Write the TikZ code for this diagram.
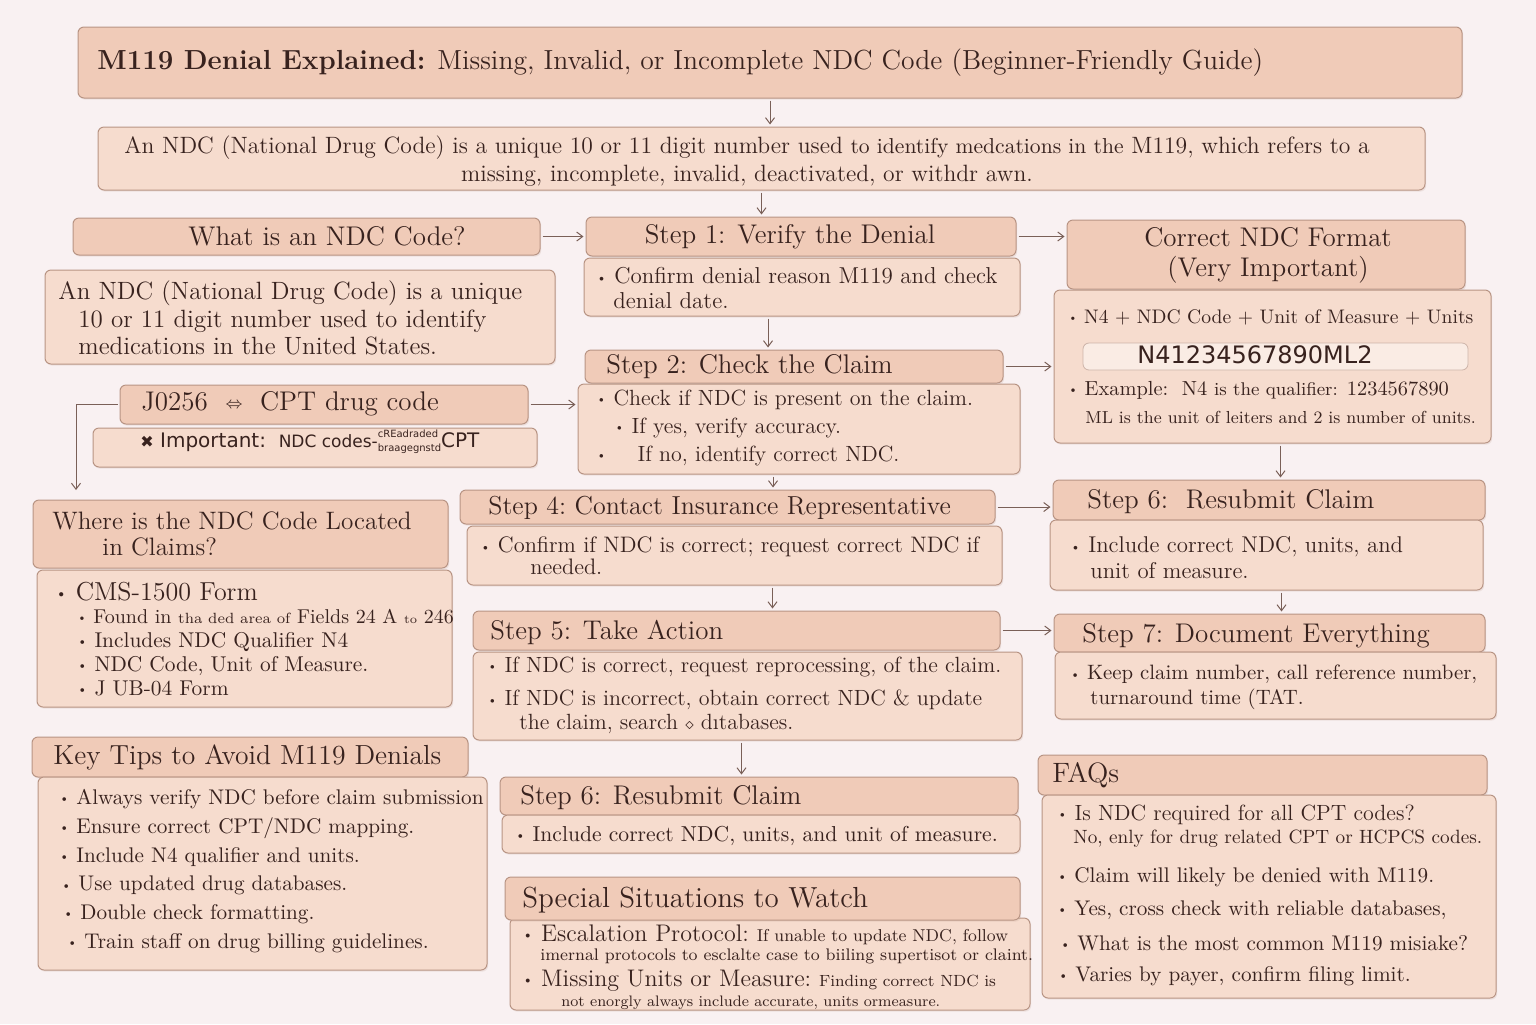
\documentclass[tikz,border=0pt]{standalone}
\usepackage{fontspec}
\setsansfont{DejaVu Sans}
\usetikzlibrary{arrows.meta,calc,fit,shadows}
\definecolor{pageBg}{RGB}{249,241,242}
\definecolor{hdrFill}{RGB}{240,203,184}
\definecolor{bodyFill}{RGB}{246,220,206}
\definecolor{boxLine}{RGB}{184,148,132}
\definecolor{inkBrown}{RGB}{56,34,30}
\definecolor{arrowBrown}{RGB}{122,96,88}
\newcommand{\bul}{\raisebox{0.18ex}{\scalebox{0.6}{\textbullet}}\ }
\newcommand{\fsz}[2]{\fontsize{#1}{#2}\selectfont}

\begin{document}
\begin{tikzpicture}[x=0.5pt,y=-0.5pt,
  hdr/.style={draw=boxLine,fill=hdrFill,rounded corners=3pt,inner sep=0pt,line width=0.5pt,
    drop shadow={shadow xshift=0.6pt,shadow yshift=-0.8pt,opacity=0.18,fill=boxLine}},
  body/.style={draw=boxLine,fill=bodyFill,rounded corners=3pt,inner sep=0pt,line width=0.5pt,
    drop shadow={shadow xshift=0.6pt,shadow yshift=-0.8pt,opacity=0.18,fill=boxLine}},
  txt/.style={anchor=west,inner sep=0pt,text=inkBrown,align=left,font=\fsz{11}{12.5}},
  htxt/.style={txt,font=\fsz{13.5}{15}},
  arr/.style={draw=arrowBrown,line width=0.5pt,shorten <=1pt,shorten >=1pt,
    -{Straight Barb[length=3pt,width=4.5pt]}}]
  % page
  \fill[pageBg] (0,0) rectangle (1536,1024);
  \useasboundingbox (0,0) rectangle (1536,1024);

  % title and intro
  \node[hdr,fit={(78,27) (1462,98)}] (title) {};
  \node[txt,font=\fsz{13.8}{17}] (titletxt) at (97,63)
    {\textbf{M119 Denial Explained:} Missing, Invalid, or Incomplete NDC Code (Beginner-Friendly Guide)};
  \node[body,fit={(98,127) (1425,190)}] (intro) {};
  \node[txt,anchor=center,align=center,font=\fsz{11.8}{14}] (introtxt) at (747,161)
    {An NDC (National Drug Code) is a unique 10 or 11 digit number used {\fsz{10.8}{14}to identify medcations in the} M119, which refers to a\\
     missing, incomplete, invalid, deactivated, or withdr awn.};

  % left column
  \node[hdr,fit={(73,218) (540,255)}] (what) {};
  \node[htxt,anchor=center] (whattxt) at (327,236) {What is an NDC Code?};
  \node[body,fit={(45,270) (555,364)}] (ndcdef) {};
  \node[txt,font=\fsz{12.5}{13.75}] (ndcdeftxt) at (58,318)
    {An NDC (National Drug Code) is a unique\\
     \hspace*{10pt}10 or 11 digit number used to identify\\
     \hspace*{10pt}medications in the United States.};
  \node[hdr,fit={(120,385) (528,424)}] (jcode) {};
  \node[htxt] (jcodetxt) at (141,404) {J0256\ \ {\sffamily\fsz{8}{10}\raisebox{0.3ex}{$\Leftrightarrow$}}\ \ CPT drug code};
  \node[body,fit={(93,428) (537,467)}] (imp) {};
  \node[txt,font=\sffamily\fsz{10}{12}] (imptxt) at (140,442)
    {{\fsz{8}{10}✖} Important:\ \ {\fsz{8.5}{10}NDC codes-}\raisebox{-0.4ex}{\fsz{5}{5}\shortstack[l]{cREadraded\\braagegnstd}}CPT};

  \node[hdr,fit={(33,500) (448,568)}] (whereh) {};
  \node[htxt,font=\fsz{12.6}{13}] (wherehtxt) at (52,534)
    {Where is the NDC Code Located\\\hspace*{25pt}in Claims?};
  \node[body,fit={(37,570) (452,707)}] (whereb) {};
  \node[txt,font=\fsz{13}{14}] (wheretxt1) at (55,592) {\bul CMS-1500 Form};
  \node[txt,font=\fsz{10.7}{12}] (wheretxt2) at (77,652.5)
    {{\fsz{10}{12}\bul Found in {\fsz{7.4}{12}tha ded area of} Fields 24 A {\fsz{6}{12}to} 246}\\
     \bul Includes NDC Qualifier N4\\
     \bul NDC Code, Unit of Measure.\\
     \bul J UB-04 Form};

  \node[hdr,fit={(32,737) (468,777)}] (tiph) {};
  \node[htxt,font=\fsz{13.8}{15}] (tiphtxt) at (53,757) {Key Tips to Avoid M119 Denials};
  \node[body,fit={(38,777) (487,970)}] (tipb) {};
  \node[txt,font=\fsz{10.6}{14.4}] (tiptxt) at (59,871)
    {\bul Always verify NDC before claim submission\\
     \bul Ensure correct CPT/NDC mapping.\\
     \bul Include N4 qualifier and units.\\
     \hspace*{1pt}\bul Use updated drug databases.\\
     \hspace*{2pt}\bul Double check formatting.\\
     \hspace*{4pt}\bul Train staff on drug billing guidelines.};

  % middle column
  \node[hdr,fit={(586,217) (1016,256)}] (s1h) {};
  \node[htxt,anchor=center] (s1htxt) at (790,237) {Step 1: Verify the Denial};
  \node[body,fit={(584,258) (1020,316)}] (s1b) {};
  \node[txt,font=\fsz{11.5}{12.5}] (s1btxt) at (596,288.5)
    {\bul Confirm denial reason M119 and check\\\hspace*{8.5pt}denial date.};
  \node[hdr,fit={(585,350) (1003,383)}] (s2h) {};
  \node[htxt] (s2htxt) at (606,367) {Step 2: Check the Claim};
  \node[body,fit={(578,384) (1020,474)}] (s2b) {};
  \node[txt,font=\fsz{11}{14}] (s2btxt) at (596,428)
    {\bul Check if NDC is present on the claim.\\
     \hspace*{9pt}\bul If yes, verify accuracy.\\
     \bul\hspace*{12pt}If no, identify correct NDC.};
  \node[hdr,fit={(460,490) (995,524)}] (s4h) {};
  \node[htxt,font=\fsz{13}{15}] (s4htxt) at (488,508) {Step 4:\ Contact Insurance Representative};
  \node[body,fit={(467,526) (1002,585)}] (s4b) {};
  \node[txt,font=\fsz{11.2}{11}] (s4btxt) at (480,556)
    {\bul Confirm if NDC is correct; request correct NDC if\\\hspace*{25pt}needed.};
  \node[hdr,fit={(473,611) (1000,650)}] (s5h) {};
  \node[htxt] (s5htxt) at (490,632) {Step 5: Take Action};
  \node[body,fit={(473,652) (1022,740)}] (s5b) {};
  \node[txt,font=\fsz{11}{12}] (s5btxt1) at (487,667) {\bul If NDC is correct, request reprocessing, of the claim.};
  \node[txt,font=\fsz{11}{12}] (s5btxt2) at (487,712)
    {\bul If NDC is incorrect, obtain correct NDC \& update\\
     \hspace*{16pt}the claim, search {\fsz{8}{12}$\diamond$} dıtabases.};
  \node[hdr,fit={(500,777) (1018,815)}] (s6mh) {};
  \node[htxt] (s6mhtxt) at (520,798) {Step 6: Resubmit Claim};
  \node[body,fit={(502,815) (1020,853)}] (s6mb) {};
  \node[txt,font=\fsz{10.8}{12}] (s6mbtxt) at (515,836) {\bul Include correct NDC, units, and unit of measure.};
  \node[body,fit={(510,918) (1030,1010)}] (spb) {};
  \node[hdr,fit={(505,877) (1020,920)}] (sph) {};
  \node[htxt,font=\fsz{14.5}{15}] (sphtxt) at (522,900) {Special Situations to Watch};
  \node[txt,font=\fsz{12}{12}] (spbtxt1) at (522,935)
    {\bul Escalation Protocol:\ {\fsz{8.6}{12}If unable to update NDC, follow}};
  \node[txt,font=\fsz{8.4}{12}] (spbtxt2) at (540,956)
    {imernal protocols to esclalte case to biiling supertisot or claint.};
  \node[txt,font=\fsz{12}{12}] (spbtxt3) at (522,981)
    {\bul Missing Units or Measure:\ {\fsz{8.1}{12}Finding correct NDC is}};
  \node[txt,font=\fsz{7.6}{12}] (spbtxt4) at (561,1003)
    {not enorgly always include accurate, units ormeasure.};

  % right column
  \node[hdr,fit={(1067,220) (1465,289)}] (fmth) {};
  \node[htxt,anchor=center,align=center,font=\fsz{13.5}{15}] (fmthtxt) at (1268,255)
    {Correct NDC Format\\(Very Important)};
  \node[body,fit={(1054,290) (1491,443)}] (fmtb) {};
  \node[txt,font=\fsz{9.8}{12}] (fmttxt1) at (1068,317) {\bul N4 + NDC Code + Unit of Measure + Units};
  \node[draw=boxLine!70,fill=bodyFill!55!white,rounded corners=3pt,inner sep=0pt,
    fit={(1083,343) (1468,370)}] (codebox) {};
  \node[txt,anchor=center,font=\sffamily\fsz{12}{13}] (codetxt) at (1255,355) {N41234567890ML2};
  \node[txt,font=\fsz{10.2}{12}] (fmttxt2) at (1068,390)
    {\bul Example:\ \ N4 {\fsz{9.2}{12}is the qualifier:} 1234567890};
  \node[txt,font=\fsz{8.7}{12}] (fmttxt3) at (1085,417) {ML is the unit of leiters and 2 is number of units.};

  \node[hdr,fit={(1053,480) (1485,520)}] (s6rh) {};
  \node[htxt] (s6rhtxt) at (1087,502) {Step 6:\ \ Resubmit Claim};
  \node[body,fit={(1050,520) (1483,590)}] (s6rb) {};
  \node[txt,font=\fsz{11.4}{13}] (s6rbtxt) at (1070,558)
    {\bul Include correct NDC, units, and\\\hspace*{10pt}unit of measure.};
  \node[hdr,fit={(1054,614) (1485,652)}] (s7h) {};
  \node[htxt] (s7htxt) at (1082,636) {Step 7: Document Everything};
  \node[body,fit={(1055,652) (1496,719)}] (s7b) {};
  \node[txt,font=\fsz{10.4}{12.5}] (s7btxt) at (1070,687.5)
    {\bul Keep claim number, call reference number,\\\hspace*{10pt}turnaround time (TAT.};

  \node[hdr,fit={(1038,755) (1487,795)}] (faqh) {};
  \node[htxt,font=\fsz{14}{15}] (faqhtxt) at (1052,775) {FAQs};
  \node[body,fit={(1042,795) (1496,998)}] (faqb) {};
  \node[txt,font=\fsz{11}{12}] (faqtxt1) at (1057,815) {\bul Is NDC required for all CPT codes?};
  \node[txt,font=\fsz{9.6}{12}] (faqtxt2) at (1073,839) {No, enly for drug related CPT or HCPCS codes.};
  \node[txt,font=\fsz{10.6}{12}] (faqtxt3) at (1057,877) {\bul Claim will likely be denied with M119.};
  \node[txt,font=\fsz{10.6}{12}] (faqtxt4) at (1057,910) {\bul Yes, cross check with reliable databases,};
  \node[txt,font=\fsz{10.6}{12}] (faqtxt5) at (1060,943) {\bul What is the most common M119 misiake?};
  \node[txt,font=\fsz{10.6}{12}] (faqtxt6) at (1058,976) {\bul Varies by payer, confirm filing limit.};

  % connectors
  \coordinate (wdrop) at (76,492);
  \draw[arr] (title.south) -- (title.south |- intro.north);
  \draw[arr] (intro.south) -- (intro.south |- s1h.north);
  \draw[arr] (what.east) -- (what.east -| s1h.west);
  \draw[arr] (s1h.east) -- (s1h.east -| fmth.west);
  \draw[arr] ($(s1b.south)+(-34,0)$) -- ($(s1b.south |- s2h.north)+(-34,0)$);
  \draw[arr] (s2h.east) -- (s2h.east -| fmtb.west);
  \draw[arr] (jcode.east) -- (jcode.east -| s2b.west);
  \draw[arr] (jcode.west) -| (wdrop);
  \draw[arr] ($(s2b.south)+(-26,0)$) -- ($(s2b.south |- s4h.north)+(-26,0)$);
  \draw[arr] (s4h.east) -- (s4h.east -| s6rh.west);
  \draw[arr] ($(s4b.south)+(38,0)$) -- ($(s4b.south |- s5h.north)+(38,0)$);
  \draw[arr] (s5h.east) -- (s5h.east -| s7h.west);
  \draw[arr] ($(s5b.south)+(-6,0)$) -- ($(s5b.south |- s6mh.north)+(-6,0)$);
  \draw[arr] ($(fmtb.south)+(8,0)$) -- ($(fmtb.south |- s6rh.north)+(8,0)$);
  \draw[arr] ($(s6rb.south)+(15,0)$) -- ($(s6rb.south |- s7h.north)+(15,0)$);
\end{tikzpicture}
\end{document}
